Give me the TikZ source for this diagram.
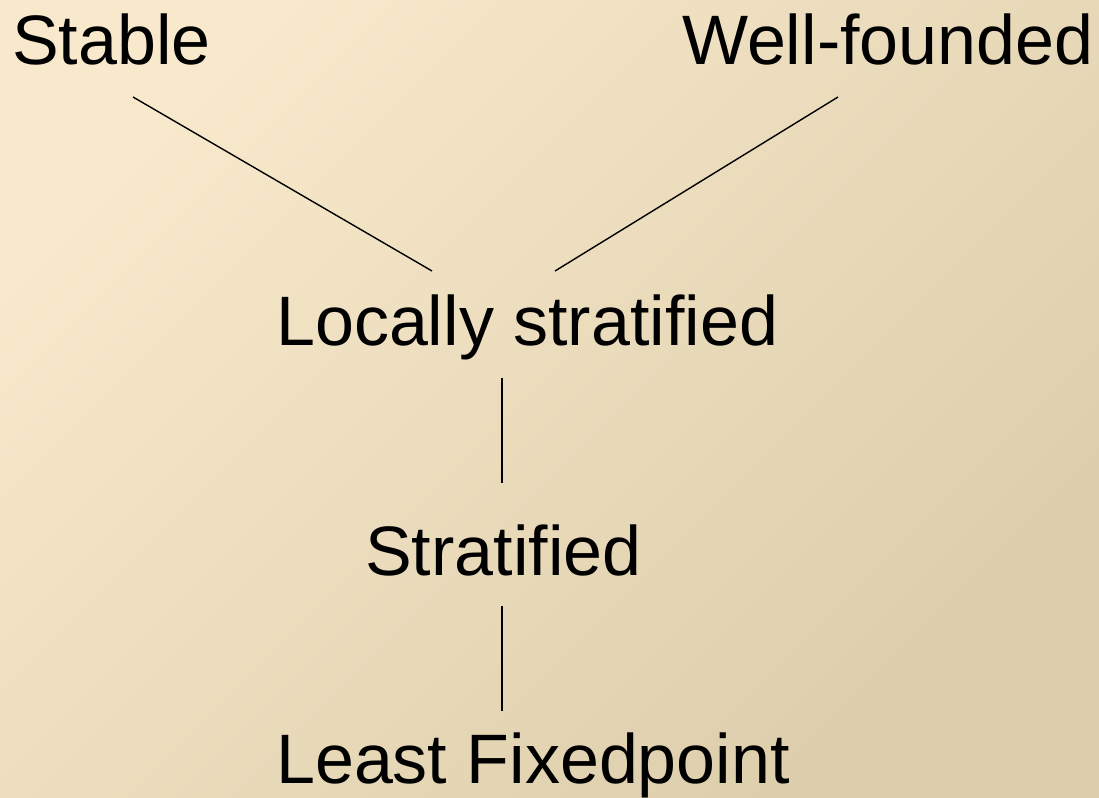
\documentclass[tikz,border=0pt]{standalone}
\usepackage{fontspec}
\setmainfont{Liberation Sans}
\definecolor{bgA}{HTML}{F8E9CC}
\definecolor{bgB}{HTML}{DCCDAB}
\begin{document}
\begin{tikzpicture}[x=1pt,y=-1pt,
  lbl/.style={anchor=base west,inner sep=0pt,font=\fontsize{70}{82}\selectfont,text=black},
  link/.style={draw=black,line width=1.4pt}]
\shade[top color=bgA,bottom color=bgB,shading angle=45] (0,0) rectangle (1099,797);
\useasboundingbox (0,0) rectangle (1099,797);
\node[lbl] (stable) at (12,65) {Stable};
\node[lbl] (wf) at (682,65) {Well-founded};
\node[lbl] (loc) at (276,345) {Locally stratified};
\node[lbl] (strat) at (365,575) {Stratified};
\node[lbl] (lfp) at (276,783) {Least Fixedpoint};
\coordinate (s1) at (133,97);
\coordinate (w1) at (838,97);
\coordinate (l1) at (432,271);
\coordinate (l2) at (555,271);
\coordinate (l3) at (502,378);
\coordinate (t1) at (502,483);
\coordinate (t2) at (502,606);
\coordinate (f1) at (502,711);
\draw[link] (s1) -- (l1);
\draw[link] (w1) -- (l2);
\draw[link] (l3) -- (t1);
\draw[link] (t2) -- (f1);
\end{tikzpicture}
\end{document}
